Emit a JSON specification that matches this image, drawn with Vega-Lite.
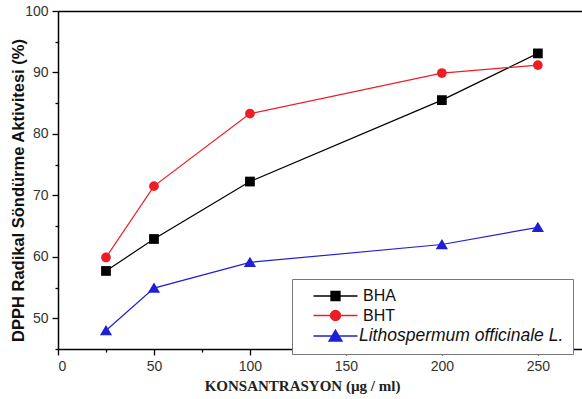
{
  "$schema": "https://vega.github.io/schema/vega-lite/v6.json",
  "autosize": {"type": "none"},
  "padding": {"left": 58, "top": 11, "right": 0, "bottom": 50},
  "width": 524,
  "height": 338,
  "background": "white",
  "config": {
    "view": {"stroke": null},
    "font": "Liberation Sans",
    "axis": {
      "domainColor": "#000000",
      "domainWidth": 1.5,
      "tickColor": "#000000",
      "tickWidth": 1.3,
      "labelFont": "Liberation Sans",
      "labelFontSize": 14,
      "labelColor": "#333333"
    }
  },
  "data": {
    "values": [
      {"series": "BHA", "conc": 25, "value": 57.7},
      {"series": "BHA", "conc": 50, "value": 62.9},
      {"series": "BHA", "conc": 100, "value": 72.25},
      {"series": "BHA", "conc": 200, "value": 85.5},
      {"series": "BHA", "conc": 250, "value": 93.1},
      {"series": "BHT", "conc": 25, "value": 59.9},
      {"series": "BHT", "conc": 50, "value": 71.5},
      {"series": "BHT", "conc": 100, "value": 83.3},
      {"series": "BHT", "conc": 200, "value": 89.9},
      {"series": "BHT", "conc": 250, "value": 91.2},
      {"series": "Lithospermum officinale L.", "conc": 25, "value": 48.0},
      {"series": "Lithospermum officinale L.", "conc": 50, "value": 54.9},
      {"series": "Lithospermum officinale L.", "conc": 100, "value": 59.1},
      {"series": "Lithospermum officinale L.", "conc": 200, "value": 62.0},
      {"series": "Lithospermum officinale L.", "conc": 250, "value": 64.8}
    ]
  },
  "encoding": {
    "x": {
      "field": "conc",
      "type": "quantitative",
      "scale": {"domain": [0, 273], "nice": false},
      "axis": {
        "title": "KONSANTRASYON (µg / ml)",
        "titleFont": "Liberation Serif",
        "titleFontSize": 15,
        "titleFontWeight": "bold",
        "titleColor": "#222222",
        "titleX": 244,
        "titleY": 36,
        "titleBaseline": "middle",
        "values": [0, 25, 50, 75, 100, 125, 150, 175, 200, 225, 250],
        "labelExpr": "datum.value % 50 === 0 ? datum.label : ''",
        "tickSize": {"condition": {"test": "datum.value % 50 === 0", "value": 6}, "value": 3},
        "labelPadding": 4,
        "grid": false
      }
    },
    "y": {
      "field": "value",
      "type": "quantitative",
      "scale": {"domain": [45, 100], "nice": false, "zero": false},
      "axis": {
        "title": "DPPH Radikal Söndürme Aktivitesi (%)",
        "titleFont": "Liberation Sans",
        "titleFontSize": 16.5,
        "titleFontWeight": "bold",
        "titleColor": "#111111",
        "titleX": -40,
        "titleY": 179,
        "titleAngle": -90,
        "titleAlign": "center",
        "titleBaseline": "middle",
        "values": [45, 50, 55, 60, 65, 70, 75, 80, 85, 90, 95, 100],
        "labelExpr": "datum.value % 10 === 0 ? datum.label : ''",
        "tickSize": {"condition": {"test": "datum.value % 10 === 0", "value": 6}, "value": 3},
        "labelPadding": 4,
        "grid": true,
        "gridColor": "#000000",
        "gridWidth": 1.5,
        "gridOpacity": {"condition": {"test": "datum.value === 100", "value": 1}, "value": 0}
      }
    }
  },
  "resolve": {"legend": {"color": "independent", "shape": "independent"}},
  "layer": [
    {
      "mark": {"type": "line", "strokeWidth": 1.2},
      "encoding": {
        "color": {
          "field": "series",
          "type": "nominal",
          "scale": {
            "domain": ["BHA", "BHT", "Lithospermum officinale L."],
            "range": ["#000000", "#ee1c24", "#1f1fd6"]
          },
          "legend": {
            "orient": "none",
            "legendX": 234,
            "legendY": 268,
            "title": null,
            "padding": 9,
            "strokeColor": "#777777",
            "fillColor": "white",
            "symbolSize": 4,
            "symbolStrokeWidth": 1.3,
            "labelOffset": 46,
            "labelFontSize": 16,
            "labelFont": "Liberation Sans",
            "labelColor": "#111111",
            "labelLimit": 500,
            "rowPadding": 3.5,
            "encode": {
              "symbols": {
                "update": {
                  "shape": {"signal": "datum.value === 'BHA' ? 'M4.5,0H48.5M22,-4.5H31V4.5H22Z' : datum.value === 'BHT' ? 'M4.5,0H48.5M21.5,0A5,5 0 1,1 31.5,0A5,5 0 1,1 21.5,0Z' : 'M4.5,0H48.5M26.5,-6L33,5L20,5Z'"},
                  "fill": {"signal": "scale('color', datum.value)"},
                  "fillOpacity": {"value": 1},
                  "stroke": {"signal": "scale('color', datum.value)"}
                }
              },
              "labels": {
                "update": {
                  "text": {"signal": "datum.value === 'Lithospermum officinale L.' ? datum.label + '\u00a0\u00a0\u00a0\u00a0\u00a0' : datum.label"},
                  "fontStyle": {"signal": "datum.value === 'Lithospermum officinale L.' ? 'italic' : 'normal'"},
                  "fontSize": {"signal": "datum.value === 'Lithospermum officinale L.' ? 17.5 : 16"},
                  "dx": {"signal": "datum.value === 'Lithospermum officinale L.' ? -4 : 0"}
                }
              }
            }
          }
        }
      }
    },
    {
      "mark": {"type": "point", "filled": true, "opacity": 1, "size": 95},
      "encoding": {
        "color": {
          "field": "series",
          "type": "nominal",
          "scale": {
            "domain": ["BHA", "BHT", "Lithospermum officinale L."],
            "range": ["#000000", "#ee1c24", "#1f1fd6"]
          },
          "legend": null
        },
        "shape": {
          "field": "series",
          "type": "nominal",
          "scale": {
            "domain": ["BHA", "BHT", "Lithospermum officinale L."],
            "range": ["square", "circle", "M0,-1.15L1.25,0.95L-1.25,0.95Z"]
          },
          "legend": null
        }
      }
    }
  ]
}
